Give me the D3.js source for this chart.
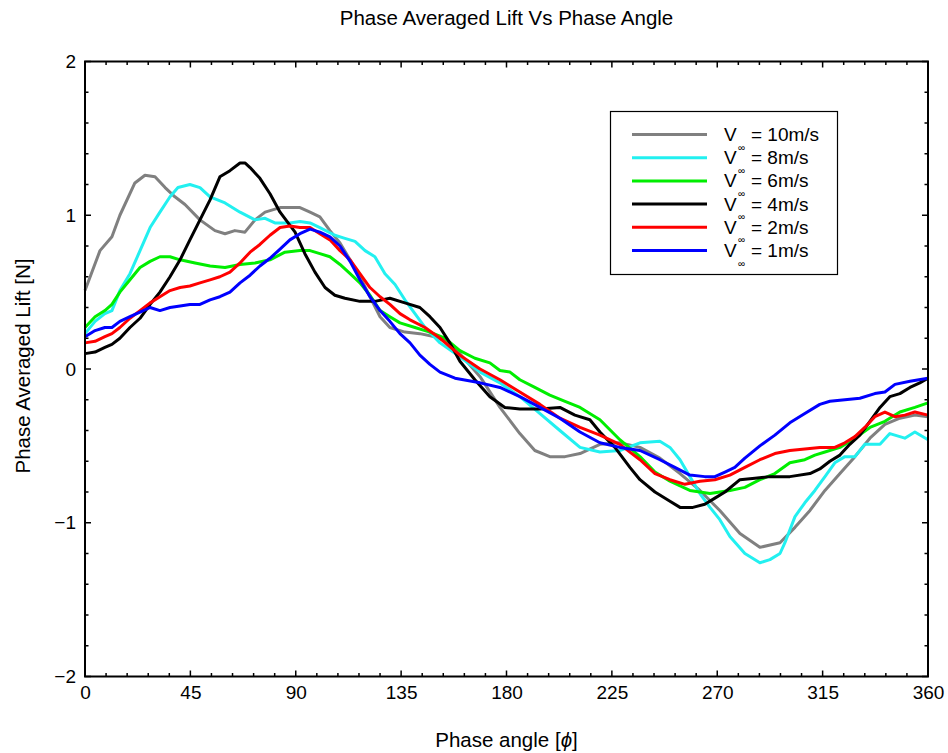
<!DOCTYPE html>
<html><head><meta charset="utf-8">
<script src="https://cdn.jsdelivr.net/npm/d3@7"></script>
<style>body{margin:0;background:#fff}svg{display:block;font-family:"Liberation Sans",Arial,sans-serif}</style>
</head><body><svg id="c" width="948" height="753"></svg>
<script>
// ---- data: [phase angle (deg), phase averaged lift (N)] ----
const v10 = [[0,0.51],[6.4,0.77],[11.5,0.86],[14.9,1.0],[21.3,1.21],[25.6,1.26],[29.9,1.25],[34.2,1.18],[38.4,1.12],[42.7,1.07],[49.1,0.97],[55.5,0.90],[59.8,0.88],[64.0,0.90],[68.3,0.89],[72.6,0.97],[76.9,1.02],[83.3,1.05],[91.8,1.05],[96.1,1.02],[100.3,0.99],[104.6,0.90],[108.9,0.82],[113.2,0.71],[117.4,0.60],[121.7,0.47],[126.0,0.34],[130.2,0.27],[136.6,0.24],[143.0,0.23],[149.4,0.21],[155.8,0.17],[160.1,0.10],[168.7,-0.05],[177.2,-0.25],[185.7,-0.42],[192.1,-0.53],[198.5,-0.57],[205.0,-0.57],[211.4,-0.55],[219.9,-0.49],[228.4,-0.48],[237.0,-0.51],[245.5,-0.58],[254.1,-0.68],[262.6,-0.79],[271.1,-0.92],[279.7,-1.07],[288.2,-1.16],[296.8,-1.13],[303.2,-1.03],[309.6,-0.92],[316.0,-0.79],[322.4,-0.68],[328.8,-0.57],[335.2,-0.45],[341.6,-0.36],[348.0,-0.32],[354.4,-0.30],[360,-0.31]];
const v8 = [[0,0.23],[4.3,0.31],[8.5,0.36],[11.5,0.38],[14.9,0.51],[19.2,0.62],[23.5,0.77],[27.8,0.92],[32.0,1.02],[36.3,1.12],[39.7,1.18],[44.8,1.20],[49.1,1.18],[53.4,1.12],[59.8,1.08],[66.2,1.02],[72.6,0.97],[76.9,0.98],[81.1,0.95],[87.5,0.95],[91.8,0.96],[96.1,0.95],[100.3,0.92],[106.7,0.87],[111.0,0.85],[115.3,0.83],[119.6,0.77],[123.8,0.73],[128.1,0.62],[132.4,0.55],[136.6,0.45],[140.9,0.36],[145.2,0.27],[151.6,0.17],[160.1,0.08],[168.7,-0.02],[177.2,-0.09],[185.7,-0.18],[194.3,-0.29],[202.8,-0.40],[211.4,-0.51],[219.9,-0.54],[228.4,-0.53],[237.0,-0.48],[245.5,-0.47],[249.8,-0.51],[254.1,-0.59],[258.3,-0.70],[262.6,-0.81],[266.9,-0.90],[271.1,-0.98],[275.4,-1.09],[281.8,-1.20],[288.2,-1.26],[292.5,-1.24],[296.8,-1.20],[298.9,-1.13],[303.2,-0.96],[307.4,-0.87],[311.7,-0.79],[316.0,-0.70],[320.2,-0.61],[324.5,-0.57],[328.8,-0.57],[333.0,-0.49],[339.5,-0.49],[343.7,-0.42],[350.1,-0.45],[354.4,-0.41],[360,-0.46]];
const v6 = [[0,0.27],[4.3,0.34],[8.5,0.38],[11.5,0.42],[14.9,0.50],[19.2,0.58],[23.5,0.66],[27.8,0.70],[32.0,0.73],[36.3,0.73],[40.6,0.71],[47.0,0.69],[53.4,0.67],[59.8,0.66],[66.2,0.68],[72.6,0.69],[79.0,0.71],[85.4,0.76],[91.8,0.77],[96.1,0.77],[100.3,0.75],[104.6,0.73],[108.9,0.68],[113.2,0.62],[117.4,0.56],[121.7,0.48],[126.0,0.38],[130.2,0.34],[134.5,0.30],[140.9,0.27],[147.3,0.24],[153.7,0.20],[160.1,0.12],[166.5,0.07],[172.9,0.04],[177.2,-0.01],[181.5,-0.02],[185.7,-0.07],[192.1,-0.12],[198.5,-0.17],[205.0,-0.21],[211.4,-0.25],[219.9,-0.33],[228.4,-0.46],[237.0,-0.57],[243.4,-0.67],[249.8,-0.73],[258.3,-0.79],[266.9,-0.81],[275.4,-0.79],[281.8,-0.77],[288.2,-0.72],[294.6,-0.68],[301.0,-0.61],[307.4,-0.59],[311.7,-0.56],[316.0,-0.54],[322.4,-0.51],[328.8,-0.45],[335.2,-0.38],[341.6,-0.34],[348.0,-0.28],[354.4,-0.25],[360,-0.22]];
const v4 = [[0,0.10],[4.3,0.11],[8.5,0.14],[11.5,0.16],[14.9,0.20],[19.2,0.27],[23.5,0.33],[27.8,0.42],[32.0,0.50],[36.3,0.60],[40.6,0.71],[44.8,0.84],[49.1,0.97],[53.4,1.10],[57.6,1.25],[61.9,1.29],[66.2,1.34],[68.3,1.34],[70.5,1.31],[74.7,1.24],[79.0,1.14],[83.3,1.02],[89.7,0.89],[93.9,0.75],[98.2,0.63],[102.5,0.53],[106.7,0.48],[111.0,0.46],[117.4,0.44],[123.8,0.44],[130.2,0.46],[136.6,0.43],[143.0,0.40],[147.3,0.34],[151.6,0.27],[155.8,0.17],[160.1,0.05],[166.5,-0.07],[172.9,-0.18],[179.3,-0.25],[185.7,-0.26],[194.3,-0.26],[202.8,-0.25],[209.2,-0.30],[215.6,-0.33],[219.9,-0.41],[226.3,-0.51],[232.7,-0.64],[237.0,-0.72],[243.4,-0.80],[249.8,-0.86],[254.1,-0.90],[259.6,-0.90],[264.7,-0.88],[269.0,-0.84],[273.3,-0.80],[279.7,-0.72],[286.1,-0.71],[292.5,-0.70],[301.0,-0.70],[309.6,-0.68],[313.8,-0.65],[318.1,-0.60],[322.4,-0.56],[326.6,-0.49],[330.9,-0.43],[335.2,-0.34],[339.5,-0.25],[343.7,-0.18],[348.0,-0.16],[352.3,-0.12],[356.5,-0.09],[360,-0.06]];
const v2 = [[0,0.17],[4.3,0.18],[8.5,0.21],[11.5,0.23],[14.9,0.27],[19.2,0.33],[23.5,0.38],[27.8,0.43],[32.0,0.47],[36.3,0.51],[40.6,0.53],[44.8,0.54],[49.1,0.56],[53.4,0.58],[57.6,0.60],[61.9,0.63],[66.2,0.69],[70.5,0.76],[74.7,0.81],[79.0,0.87],[83.3,0.92],[87.5,0.93],[91.8,0.92],[96.1,0.92],[100.3,0.88],[104.6,0.84],[108.9,0.77],[113.2,0.71],[117.4,0.62],[121.7,0.53],[126.0,0.47],[130.2,0.42],[134.5,0.36],[138.8,0.32],[145.2,0.27],[151.6,0.20],[160.1,0.09],[168.7,0.0],[177.2,-0.07],[185.7,-0.15],[194.3,-0.23],[202.8,-0.32],[211.4,-0.38],[219.9,-0.43],[228.4,-0.49],[237.0,-0.59],[243.4,-0.68],[249.8,-0.72],[256.2,-0.75],[262.6,-0.73],[269.0,-0.72],[275.4,-0.69],[281.8,-0.64],[288.2,-0.59],[294.6,-0.55],[301.0,-0.53],[307.4,-0.52],[313.8,-0.51],[320.2,-0.51],[324.5,-0.48],[328.8,-0.44],[333.0,-0.38],[337.3,-0.31],[341.6,-0.28],[345.9,-0.31],[350.1,-0.30],[354.4,-0.28],[360,-0.30]];
const v1 = [[0,0.21],[4.3,0.25],[8.5,0.27],[11.5,0.27],[14.9,0.31],[19.2,0.34],[23.5,0.37],[27.8,0.40],[32.0,0.38],[36.3,0.40],[40.6,0.41],[44.8,0.42],[49.1,0.42],[53.4,0.45],[57.6,0.47],[61.9,0.50],[66.2,0.56],[70.5,0.61],[74.7,0.67],[79.0,0.72],[83.3,0.78],[87.5,0.84],[91.8,0.88],[96.1,0.91],[100.3,0.89],[104.6,0.86],[108.9,0.80],[113.2,0.70],[117.4,0.58],[121.7,0.47],[126.0,0.38],[130.2,0.31],[134.5,0.23],[138.8,0.17],[143.0,0.09],[147.3,0.03],[151.6,-0.02],[158.0,-0.06],[168.7,-0.09],[177.2,-0.12],[185.7,-0.18],[194.3,-0.25],[202.8,-0.32],[211.4,-0.41],[219.9,-0.48],[228.4,-0.51],[237.0,-0.53],[245.5,-0.59],[251.9,-0.64],[258.3,-0.69],[264.7,-0.70],[269.0,-0.70],[273.3,-0.67],[277.5,-0.64],[281.8,-0.58],[288.2,-0.50],[294.6,-0.43],[301.0,-0.35],[307.4,-0.29],[313.8,-0.23],[318.1,-0.21],[324.5,-0.20],[330.9,-0.19],[337.3,-0.16],[341.6,-0.15],[345.9,-0.10],[352.3,-0.08],[360,-0.06]];

const seriesNames = ["10m/s","8m/s","6m/s","4m/s","2m/s","1m/s"];
const seriesData = [v10, v8, v6, v4, v2, v1];
const seriesColors = ["#808080","#22f0f0","#00ee00","#000000","#ff0000","#0000ff"];
const xTicks = [0,45,90,135,180,225,270,315,360];
const yTicks = [-2,-1,0,1,2];

const svg = d3.select("#c");
const L = 85, R = 928, T = 61.5, B = 676.5;
const x = d3.scaleLinear().domain([0,360]).range([L,R]);
const y = d3.scaleLinear().domain([-2,2]).range([B,T]);

// minor ticks
const xMinor = d3.range(0,361,9), yMinor = d3.range(-2,2.001,0.2);
const tk = svg.append("g").attr("stroke","#000").attr("stroke-width",1.5);
xMinor.forEach(v=>{
  const len = (v%45===0)?6:3.5;
  tk.append("line").attr("x1",x(v)).attr("x2",x(v)).attr("y1",B).attr("y2",B-len);
  tk.append("line").attr("x1",x(v)).attr("x2",x(v)).attr("y1",T).attr("y2",T+len);
});
yMinor.forEach(v=>{
  const len = (Math.abs(v-Math.round(v))<1e-6)?6:3.5;
  tk.append("line").attr("y1",y(v)).attr("y2",y(v)).attr("x1",L).attr("x2",L+len);
  tk.append("line").attr("y1",y(v)).attr("y2",y(v)).attr("x1",R).attr("x2",R-len);
});

// axes labels via d3 axes (tick size 0, labels only)
const xa = svg.append("g").attr("transform",`translate(0,${B})`)
  .call(d3.axisBottom(x).tickValues(xTicks).tickSize(0).tickPadding(9).tickFormat(d3.format("d")));
xa.select(".domain").remove();
xa.selectAll("text").attr("font-size",19).attr("font-family","Liberation Sans, Arial").attr("fill","#000");
const ya = svg.append("g").attr("transform",`translate(${L},0)`)
  .call(d3.axisLeft(y).tickValues(yTicks).tickSize(0).tickPadding(9).tickFormat(d3.format("d")));
ya.select(".domain").remove();
ya.selectAll("text").attr("font-size",19).attr("font-family","Liberation Sans, Arial").attr("fill","#000");

// lines
const line = d3.line().x(d=>x(d[0])).y(d=>y(d[1]));
const plot = svg.append("g");
seriesData.forEach((s,i)=>{
  plot.append("path").datum(s).attr("d",line).attr("fill","none")
    .attr("stroke",seriesColors[i]).attr("stroke-width",3).attr("stroke-linejoin","round");
});

// frame
svg.append("rect").attr("x",L).attr("y",T).attr("width",R-L).attr("height",B-T)
  .attr("fill","none").attr("stroke","#000").attr("stroke-width",2);

// title & axis titles
svg.append("text").attr("x",(L+R)/2).attr("y",25).attr("text-anchor","middle")
  .attr("font-size",20.5).text("Phase Averaged Lift Vs Phase Angle");
const xt = svg.append("text").attr("x",(L+R)/2).attr("y",747).attr("text-anchor","middle").attr("font-size",20.5);
xt.append("tspan").text("Phase angle [");
xt.append("tspan").attr("font-style","italic").text("ϕ");
xt.append("tspan").text("]");
svg.append("text").attr("transform",`translate(30,366) rotate(-90)`).attr("text-anchor","middle")
  .attr("font-size",20.5).text("Phase Averaged Lift [N]");

// legend
const lg = svg.append("g");
lg.append("rect").attr("x",610.5).attr("y",111.5).attr("width",227).attr("height",163)
  .attr("fill","#fff").attr("stroke","#000").attr("stroke-width",1.2);
seriesNames.forEach((n,i)=>{
  const yy = 134.5 + i*23.2;
  lg.append("line").attr("x1",632).attr("x2",707).attr("y1",yy).attr("y2",yy)
    .attr("stroke",seriesColors[i]).attr("stroke-width",3);
  lg.append("text").attr("x",724).attr("y",yy+6.5).attr("font-size",19).text("V");
  lg.append("text").attr("x",738).attr("y",yy+16).attr("font-size",10).text("∞");
  lg.append("text").attr("x",751).attr("y",yy+6.5).attr("font-size",19).text("= "+n);
});
</script></body></html>
